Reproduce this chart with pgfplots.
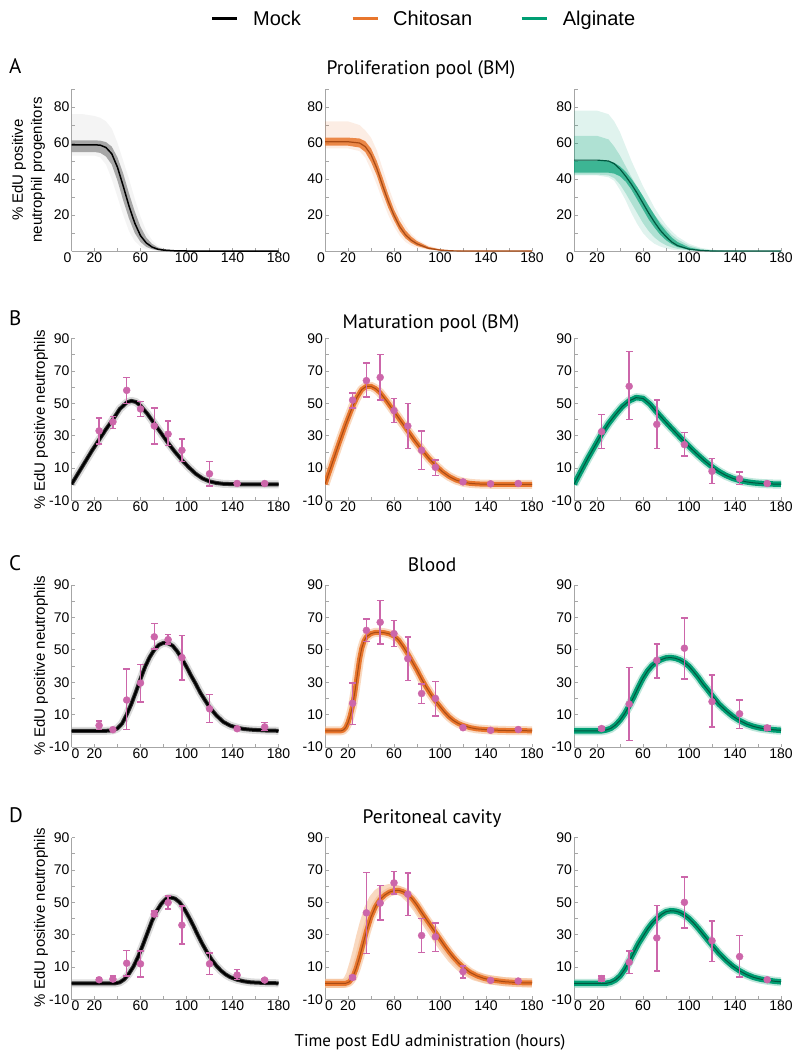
\documentclass[border=0pt]{standalone}
\usepackage{pgfplots}
\pgfplotsset{compat=1.18}
\usepackage{pgfplotstable}
\usepgfplotslibrary{fillbetween}
\usepackage{fontspec}
\setmainfont{Liberation Sans}
\newfontfamily\myriad{PT Sans}

\definecolor{pk}{HTML}{CC66AA}
\definecolor{orC}{HTML}{E8762D}
\definecolor{orL}{HTML}{F4B98C}
\definecolor{orD}{HTML}{A84A14}
\definecolor{grC}{HTML}{009E73}
\definecolor{grL}{HTML}{7FCFB8}
\definecolor{grD}{HTML}{00573F}
\definecolor{axg}{HTML}{A6A6A6}

% ---------------- Row A (proliferation pool) ----------------
\pgfplotstableread{
x m ilo ihi olo ohi
0 59 55 61.5 53 76
10 59 55 61.5 53 76
20 59 55 61.5 53 75
25 58.8 54.5 61.3 52 74
30 57.5 52.5 60.5 48 72
35 54 48 58 40 68
40 46.5 39 52 30 60
45 36 28 43 20 50
50 25 18 32 11 40
55 15.5 10 22 5.5 29
60 8.5 5 13.5 2.5 19
65 4.5 2.3 7.5 1 11
70 2.2 1 4 0.4 6
75 1 0.4 2 0.1 3
80 0.5 0.1 1 0 1.5
90 0.1 0 0.3 0 0.4
100 0 0 0.1 0 0.1
180 0 0 0 0 0
}\AMock
\pgfplotstableread{
x m ilo ihi olo ohi
0 60.7 58.5 63 57 72
20 60.7 58.5 63 57 72
30 60 57.5 62.5 55.5 70
35 58 55 61 52 67
40 53.5 49.5 57 45 63
45 46 42 50 37 56
50 36.5 32.5 41 28 46
55 27.5 24 31.5 20 36
60 19.8 17 23 13.5 27
65 13.5 11 16.5 8.5 19.5
70 9 7 11.5 5 14
75 6 4.5 8 3 9.5
80 4 2.8 5.5 1.8 6.5
90 1.5 1 2.3 0.6 3
100 0.5 0.3 0.9 0.2 1.2
110 0.1 0.05 0.3 0 0.4
120 0 0 0.1 0 0.1
180 0 0 0 0 0
}\ACh
\pgfplotstableread{
x m ilo ihi mlo mhi olo ohi
0 50.5 43.5 50 42.5 64 42 78
20 50.5 43.5 50 42.5 64 42 78
30 50 43.5 50 42 62 41 76
35 48.5 43 49 40.5 58 39 72
40 45.5 41.5 47 37 53 34 66
45 41.5 38.5 44 32 47 28 58
50 37 34 40 26.5 41 21 50
55 32 28.5 35.5 21 35.5 15 43
60 26.5 23 30.5 15.5 30 10 36
65 21 17.5 25 11 25 6.5 30
70 16 13 20 7.5 20 4 24
75 11.5 9 15 5 16 2.5 19
80 8 6 11 3.2 12.5 1.5 14.5
85 5 3.8 7.5 2 9 0.8 11
90 3 2.2 5 1.2 6.5 0.4 8
100 1 0.7 2 0.4 3 0.1 4
110 0.3 0.2 0.7 0.1 1.2 0 1.8
120 0 0 0.2 0 0.4 0 0.7
130 0 0 0 0 0.1 0 0.2
140 0 0 0 0 0 0 0
180 0 0 0 0 0 0 0
}\AAl

% ---------------- Row B (maturation pool) ----------------
\pgfplotstableread{
x y
0 0
6 7
12 14
18 21
24 27.5
30 34
36 40
42 46.5
48 50.5
52 51.5
56 50.8
60 48.5
66 43.5
72 37.5
78 31.5
84 25.5
90 20
96 15
102 10.5
108 6.5
114 3.6
120 1.8
126 0.8
132 0.3
140 0.1
150 0
180 0
}\BMockC
\pgfplotstableread{
x y ep em
24 33 8 8
36 38.5 3.5 4
48 58 8 8
60 46.5 4.5 4.5
72 36 11 11
84 31 8 7
96 21 7 7
120 6.5 7.5 7.5
144 0.5 0.3 0.3
168 0.5 0.3 0.3
}\BMockD
\pgfplotstableread{
x y
0 0
6 12.5
12 25
18 37
24 48
28 54
32 58.5
36 60.5
40 60.5
44 59
48 56.5
54 51
60 45
66 39
72 33
78 27
84 21.5
90 16.3
96 11.8
102 7.8
108 4.8
114 2.6
120 1.3
126 0.6
132 0.25
140 0.05
150 0
180 0
}\BChC
\pgfplotstableread{
x y ep em
24 52 4.5 5
36 64 11 10
48 66 14 14
60 45.5 7.5 7.5
72 36 14 14
84 21 12 12
96 10.5 4.5 5
120 1.5 0.3 0.3
144 0.3 0.3 0.3
168 0.5 0.3 0.3
}\BChD
\pgfplotstableread{
x y
0 0
6 8
12 16
18 23.5
24 31
30 37.5
36 43
42 48
48 51.5
54 53.5
60 53
66 49.5
72 44.5
78 39.8
84 35.2
90 30.7
96 26.3
102 22
108 18
114 14.2
120 10.8
126 7.9
132 5.5
138 3.7
144 2.4
150 1.5
156 0.9
164 0.45
172 0.2
180 0.1
}\BAlC
\pgfplotstableread{
x y ep em
24 32.5 10.5 10.5
48 60.5 21.5 20.5
72 37 15 15
96 24.5 7.5 7
120 8 8 7.5
144 3.5 4 3.5
168 0.5 0.3 0.3
}\BAlD

% ---------------- Row C (blood) ----------------
\pgfplotstableread{
x y
0 0
30 0
36 0.3
40 1.5
44 4.5
48 10
52 16.5
56 24
60 32
64 39.5
68 45.5
72 50
76 53
80 54.3
84 54
88 52.5
92 49
96 44.5
100 39.5
104 34
108 29
112 23.5
116 19
120 14.6
126 9.5
132 5.5
138 3.2
144 1.9
150 1.1
156 0.7
168 0.2
180 0
}\CMockC
\pgfplotstableread{
x y ep em
24 3.3 2.7 2.6
36 0.7 0.3 0.3
48 19 19 18.3
60 29.5 11.5 11.8
72 58 8.2 7.5
84 56.3 3.2 2.8
96 45.2 13.6 13.7
120 13.6 8.8 8.6
144 1.3 0.8 0.8
168 2.4 2.8 2.1
}\CMockD
\pgfplotstableread{
x y
0 0
14 0
16 0.5
18 2
20 5
22 9.5
24 15.5
26 24
28 34
30 44
32 51
34 55.5
36 58
40 60
44 60.8
48 60.8
52 60.5
56 59.8
60 58.5
64 56
68 52
72 47.5
76 42.5
80 37.5
84 32
88 27
92 22.5
96 18.5
100 15
104 11.5
108 8.5
112 6.2
116 4.5
120 3.3
126 2
132 1.2
144 0.5
156 0.2
180 0
}\CChC
\pgfplotstableread{
x y ep em
24 17 12.5 13
36 62 7 7
48 67 13.3 13.3
60 60 8 8
72 44.5 13.5 13.5
84 23 6 6
96 20 10.5 11
120 1.9 0.7 0.7
144 0.3 0.3 0.3
168 0.8 0.3 0.3
}\CChD
\pgfplotstableread{
x y
0 0
24 0
28 0.5
32 1.5
36 3.5
40 6.5
44 10.5
48 15.5
52 21
56 27
60 32.5
64 37
68 40.3
72 42.5
76 44
80 45
84 45.2
88 44.8
92 43.8
96 42.2
100 39.8
104 36.5
108 33
112 29
116 25.5
120 21.8
126 16.5
132 12.5
138 9
144 6.3
150 4.2
156 2.7
162 1.7
168 1.1
174 0.6
180 0.3
}\CAlC
\pgfplotstableread{
x y ep em
24 1.4 1.2 1.2
48 16.5 22.5 22.5
72 43.5 10 11
96 51 18.5 19
120 18 16.5 15.5
144 10.5 8.5 9
168 1.8 1.2 1.2
}\CAlD

% ---------------- Row D (peritoneal cavity) ----------------
\pgfplotstableread{
x y
0 0
38 0
42 0.6
46 2.5
50 6
54 10.5
58 16.5
62 23.5
66 31
70 38.5
74 44.5
78 49
82 52
86 53
90 52.3
94 50
98 46
102 41
106 35.5
110 29.5
114 24
118 19
122 14.5
126 10.8
130 7.8
134 5.5
138 3.8
144 2.2
150 1.2
156 0.6
168 0.2
180 0
}\DMockC
\pgfplotstableread{
x y ep em
24 2.2 1.2 1.2
36 2.6 1.8 1.6
48 12.4 7.8 7.9
60 12 7.8 8
72 42.7 2 1.6
84 49.8 4 3.8
96 35.9 11.9 11.6
120 12 6.6 6.5
144 5.1 3.3 2.9
168 2 0.8 0.8
}\DMockD
\pgfplotstableread{
x y
0 0
18 0
21 0.8
24 3.5
27 9
30 16
33 24
36 32
40 41
44 47.5
48 51.8
52 54.5
56 56.3
60 57.2
64 57.4
68 56.5
72 54.8
76 52
80 48.2
84 43.8
88 39.6
92 35.5
96 31.4
100 27.3
104 23.2
108 19.3
112 15.8
116 12.7
120 10
126 6.8
132 4.6
138 3.1
144 2.1
156 1
168 0.4
180 0.2
}\DChC
\pgfplotstableread{
x y
0 0
16 0
19 1
22 5
25 12
28 20
31 29
34 37
38 46
42 52
46 55.5
50 57.5
56 58.5
62 58
68 56
74 52
80 46.5
86 40
92 33.5
98 27
104 21
110 15.5
116 11
122 7.5
130 4.5
140 2.5
156 1
180 0.2
}\DChS
\pgfplotstableread{
x y ep em
24 3.6 1 1
36 43.5 25 25
48 49.5 11 10.5
60 62 7 7
72 55 13 13
84 29.5 10.5 10.5
96 28.7 8.5 9
120 7.2 3.4 3.9
144 1.8 0.6 0.6
168 1.4 0.3 0.3
}\DChD
\pgfplotstableread{
x y
0 0
28 0
32 0.6
36 2
40 4.5
44 8.5
48 13.5
52 19
56 24.5
60 29
64 33.5
68 37.2
72 40
76 42.5
80 44.2
84 44.8
88 44.6
92 43.8
96 42.2
100 40
104 37.2
108 34
112 30.5
116 27
120 23.6
126 18.6
132 14.3
138 10.6
144 7.7
150 5.4
156 3.7
162 2.6
168 1.9
174 1.3
180 0.9
}\DAlC
\pgfplotstableread{
x y ep em
24 2.9 1.5 1.5
48 13 7 7
72 28 20 20.5
96 50 15.7 16
120 26.3 12.3 12.8
144 16.5 12.9 12.6
168 2.2 0.3 0.3
}\DAlD

\pgfplotsset{
  panel/.style={scale only axis, width=207pt, height=162pt, xmin=0, xmax=180,
    axis x line=bottom, axis y line=left,
    axis line style={axg, line width=0.9pt, -},
    tick style={axg, line width=0.8pt}, tick align=inside,
    major tick length=3.5pt,
    xtick={0,20,...,180}, xticklabels={,20,,60,,100,,140,,180},
    extra x ticks={0}, extra x tick labels={0},
    tick label style={font=\fontsize{14}{14}\selectfont},
    xticklabel style={yshift=2pt}, yticklabel style={xshift=1.5pt},
    /pgf/number format/assume math mode=true,
    anchor=south west},
  rowA/.style={ymin=0, ymax=90, ytick={0,10,...,90}, yticklabels={,,20,,40,,60,,80,},
    extra x tick style={xticklabel style={xshift=-4pt}}},
  rowB/.style={ymin=-10, ymax=90, ytick={-10,0,...,90}, yticklabels={-10,,10,,30,,50,,70,,90},
    extra x tick style={xticklabel style={xshift=4pt}}},
  dat/.style={only marks, mark=*, mark size=3.5pt, color=pk, mark options={fill=pk, draw=pk},
    error bars/.cd, y dir=both, y explicit, error mark=-,
    error bar style={line width=1.5pt, draw=pk},
    error mark options={rotate=90, line width=1.5pt, mark size=3.3pt, draw=pk}},
  mockhalo/.style={gray!55, line width=8pt, opacity=0.5, line join=round, mark=none},
  mockband/.style={black!80, line width=4pt, line join=round, mark=none},
  mockmean/.style={black, line width=2pt, line join=round, mark=none},
  chhalo/.style={orL, line width=9pt, opacity=0.55, line join=round, mark=none},
  chband/.style={orC, line width=5pt, line join=round, mark=none},
  chmean/.style={orD, line width=1pt, line join=round, mark=none},
  alhalo/.style={grL, line width=9pt, opacity=0.5, line join=round, mark=none},
  alband/.style={grC, line width=5.5pt, line join=round, mark=none},
  almean/.style={grD, line width=1pt, line join=round, mark=none},
}

\begin{document}
\begin{tikzpicture}

% ===== Row A =====
\begin{axis}[panel, rowA, at={(71.5pt,-251pt)}]
\addplot[draw=none, name path=olo] table[x=x,y=olo]{\AMock};
\addplot[draw=none, name path=ohi] table[x=x,y=ohi]{\AMock};
\addplot[fill=gray!60, fill opacity=0.15, draw=none] fill between[of=ohi and olo];
\addplot[draw=none, name path=ilo] table[x=x,y=ilo]{\AMock};
\addplot[draw=none, name path=ihi] table[x=x,y=ihi]{\AMock};
\addplot[fill=black!55, fill opacity=0.6, draw=none] fill between[of=ihi and ilo];
\addplot[black, line width=1.5pt, mark=none] table[x=x,y=m]{\AMock};
\end{axis}
\begin{axis}[panel, rowA, at={(325pt,-251pt)}]
\addplot[draw=none, name path=olo] table[x=x,y=olo]{\ACh};
\addplot[draw=none, name path=ohi] table[x=x,y=ohi]{\ACh};
\addplot[fill=orC, fill opacity=0.13, draw=none] fill between[of=ohi and olo];
\addplot[draw=none, name path=ilo] table[x=x,y=ilo]{\ACh};
\addplot[draw=none, name path=ihi] table[x=x,y=ihi]{\ACh};
\addplot[fill=orC, fill opacity=0.85, draw=none] fill between[of=ihi and ilo];
\addplot[orD, line width=1.2pt, mark=none] table[x=x,y=m]{\ACh};
\end{axis}
\begin{axis}[panel, rowA, at={(574pt,-251pt)}]
\addplot[draw=none, name path=olo] table[x=x,y=olo]{\AAl};
\addplot[draw=none, name path=ohi] table[x=x,y=ohi]{\AAl};
\addplot[fill=grC, fill opacity=0.12, draw=none] fill between[of=ohi and olo];
\addplot[draw=none, name path=mlo] table[x=x,y=mlo]{\AAl};
\addplot[draw=none, name path=mhi] table[x=x,y=mhi]{\AAl};
\addplot[fill=grC, fill opacity=0.22, draw=none] fill between[of=mhi and mlo];
\addplot[draw=none, name path=ilo] table[x=x,y=ilo]{\AAl};
\addplot[draw=none, name path=ihi] table[x=x,y=ihi]{\AAl};
\addplot[fill=grC, fill opacity=0.65, draw=none] fill between[of=ihi and ilo];
\addplot[grD, line width=1.2pt, mark=none] table[x=x,y=m]{\AAl};
\end{axis}

% ===== Row B =====
\begin{axis}[panel, rowB, at={(71.5pt,-500.5pt)}]
\addplot[mockhalo] table[x=x,y=y]{\BMockC};
\addplot[mockband] table[x=x,y=y]{\BMockC};
\addplot[mockmean] table[x=x,y=y]{\BMockC};
\addplot[dat] table[x=x,y=y,y error plus=ep,y error minus=em]{\BMockD};
\end{axis}
\begin{axis}[panel, rowB, at={(325pt,-500.5pt)}]
\addplot[chhalo] table[x=x,y=y]{\BChC};
\addplot[chband] table[x=x,y=y]{\BChC};
\addplot[chmean] table[x=x,y=y]{\BChC};
\addplot[dat] table[x=x,y=y,y error plus=ep,y error minus=em]{\BChD};
\end{axis}
\begin{axis}[panel, rowB, at={(574pt,-500.5pt)}]
\addplot[alhalo] table[x=x,y=y]{\BAlC};
\addplot[alband] table[x=x,y=y]{\BAlC};
\addplot[almean] table[x=x,y=y]{\BAlC};
\addplot[dat] table[x=x,y=y,y error plus=ep,y error minus=em]{\BAlD};
\end{axis}

% ===== Row C =====
\begin{axis}[panel, rowB, at={(71.5pt,-747pt)}]
\addplot[mockhalo] table[x=x,y=y]{\CMockC};
\addplot[mockband] table[x=x,y=y]{\CMockC};
\addplot[mockmean] table[x=x,y=y]{\CMockC};
\addplot[dat] table[x=x,y=y,y error plus=ep,y error minus=em]{\CMockD};
\end{axis}
\begin{axis}[panel, rowB, at={(325pt,-747pt)}]
\addplot[chhalo] table[x=x,y=y]{\CChC};
\addplot[chband] table[x=x,y=y]{\CChC};
\addplot[chmean] table[x=x,y=y]{\CChC};
\addplot[dat] table[x=x,y=y,y error plus=ep,y error minus=em]{\CChD};
\end{axis}
\begin{axis}[panel, rowB, at={(574pt,-747pt)}]
\addplot[alhalo] table[x=x,y=y]{\CAlC};
\addplot[alband] table[x=x,y=y]{\CAlC};
\addplot[almean] table[x=x,y=y]{\CAlC};
\addplot[dat] table[x=x,y=y,y error plus=ep,y error minus=em]{\CAlD};
\end{axis}

% ===== Row D =====
\begin{axis}[panel, rowB, at={(71.5pt,-999.5pt)}]
\addplot[mockhalo] table[x=x,y=y]{\DMockC};
\addplot[mockband] table[x=x,y=y]{\DMockC};
\addplot[mockmean] table[x=x,y=y]{\DMockC};
\addplot[dat] table[x=x,y=y,y error plus=ep,y error minus=em]{\DMockD};
\end{axis}
\begin{axis}[panel, rowB, at={(325pt,-999.5pt)}]
\addplot[chhalo] table[x=x,y=y]{\DChS};
\addplot[chhalo] table[x=x,y=y]{\DChC};
\addplot[chband] table[x=x,y=y]{\DChC};
\addplot[chmean] table[x=x,y=y]{\DChC};
\addplot[dat] table[x=x,y=y,y error plus=ep,y error minus=em]{\DChD};
\end{axis}
\begin{axis}[panel, rowB, at={(574pt,-999.5pt)}]
\addplot[alhalo] table[x=x,y=y]{\DAlC};
\addplot[alband] table[x=x,y=y]{\DAlC};
\addplot[almean] table[x=x,y=y]{\DAlC};
\addplot[dat] table[x=x,y=y,y error plus=ep,y error minus=em]{\DAlD};
\end{axis}

% legend
\draw[black, line width=3pt] (212pt,-18.5pt) -- (237pt,-18.5pt);
\node[anchor=base west, inner sep=0pt, font=\fontsize{20}{20}\selectfont] at (253pt,-25.5pt) {Mock};
\draw[orC, line width=3pt] (352.7pt,-18.5pt) -- (378pt,-18.5pt);
\node[anchor=base west, inner sep=0pt, font=\fontsize{20}{20}\selectfont] at (393pt,-25.5pt) {Chitosan};
\draw[grC, line width=3pt] (521.7pt,-18.5pt) -- (546.7pt,-18.5pt);
\node[anchor=base west, inner sep=0pt, font=\fontsize{20}{20}\selectfont] at (562.7pt,-25.5pt) {Alginate};

% titles and letters
\node[anchor=base, inner sep=0pt] at (421pt,-75pt) {\myriad\fontsize{19.5}{20}\selectfont Proliferation pool (BM)};
\node[anchor=base, inner sep=0pt] at (431pt,-328pt) {\myriad\fontsize{19.5}{20}\selectfont Maturation pool (BM)};
\node[anchor=base, inner sep=0pt] at (432pt,-571pt) {\myriad\fontsize{19.5}{20}\selectfont Blood};
\node[anchor=base, inner sep=0pt] at (432pt,-823pt) {\myriad\fontsize{19.5}{20}\selectfont Peritoneal cavity};
\node[anchor=base west, inner sep=0pt] at (9pt,-74pt) {\myriad\fontsize{21}{21}\selectfont A};
\node[anchor=base west, inner sep=0pt] at (9pt,-325pt) {\myriad\fontsize{21}{21}\selectfont B};
\node[anchor=base west, inner sep=0pt] at (9pt,-570pt) {\myriad\fontsize{21}{21}\selectfont C};
\node[anchor=base west, inner sep=0pt] at (9pt,-822pt) {\myriad\fontsize{21}{21}\selectfont D};
\node[anchor=base, inner sep=0pt] at (430pt,-1046.5pt) {\myriad\fontsize{17}{17}\selectfont Time post EdU administration (hours)};

% y labels
\node[rotate=90, align=center, font=\fontsize{15}{19}\selectfont] at (28.5pt,-170pt) {\% EdU positive\\neutrophil progenitors};
\node[rotate=90, font=\fontsize{15}{15}\selectfont] at (41pt,-419.5pt) {\% EdU positive neutrophils};
\node[rotate=90, font=\fontsize{15}{15}\selectfont] at (41pt,-665.5pt) {\% EdU positive neutrophils};
\node[rotate=90, font=\fontsize{15}{15}\selectfont] at (41pt,-917.5pt) {\% EdU positive neutrophils};

\path (0,0) rectangle (800pt,-1059pt);
\end{tikzpicture}
\end{document}
